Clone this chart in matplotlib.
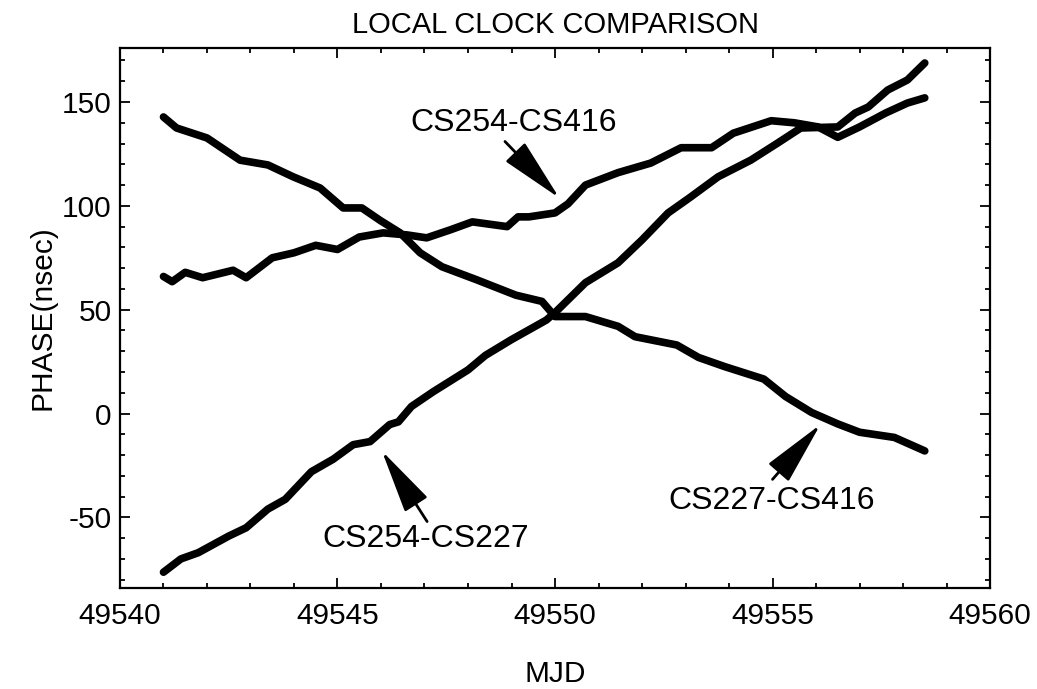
import matplotlib.pyplot as plt
from matplotlib.ticker import MultipleLocator

plt.rcParams['font.family'] = ['Liberation Sans', 'DejaVu Sans']
plt.rcParams['axes.unicode_minus'] = False

# CS227-CS416
mjd_a = [49541.0, 49541.3, 49542.0, 49542.76, 49543.4, 49543.98, 49544.6, 49545.13,
         49545.56, 49545.98, 49546.44, 49546.9, 49547.4, 49548.2, 49549.1, 49549.7,
         49550.0, 49550.7, 49551.45, 49551.84, 49552.8, 49553.3, 49553.9, 49554.8,
         49555.3, 49555.9, 49556.5, 49557.0, 49557.8, 49558.5]
phase_a = [142.8, 137.5, 132.7, 122, 119.7, 114, 108.6, 99,
           99, 93, 87, 77.4, 70.7, 64.4, 57, 54,
           46.7, 46.7, 42, 37, 33, 27, 22.6, 16.6,
           8.2, 0.5, -5, -9, -11.5, -18]

# CS254-CS416
mjd_b = [49541.0, 49541.2, 49541.5, 49541.9, 49542.6, 49542.9, 49543.5, 49544.0,
         49544.5, 49545.0, 49545.5, 49546.05, 49546.6, 49547.05, 49547.6, 49548.1,
         49548.9, 49549.15, 49549.4, 49550.0, 49550.3, 49550.7, 49551.45, 49552.2,
         49552.9, 49553.6, 49554.1, 49554.97, 49555.5, 49556.05, 49556.5, 49557.0,
         49557.6, 49558.1, 49558.5]
phase_b = [66, 63.5, 68, 65.4, 69, 65.4, 75, 77.4,
           81, 79, 85, 87, 86, 84.6, 88.5, 92.3,
           90, 94.7, 94.7, 96.6, 101, 110, 116, 120.6,
           128, 128, 135, 141, 140, 138, 133, 138,
           144.7, 149.5, 152]

# CS254-CS227
mjd_c = [49541.0, 49541.4, 49541.8, 49542.5, 49542.9, 49543.4, 49543.8, 49544.4,
         49544.9, 49545.36, 49545.75, 49546.2, 49546.4, 49546.7, 49547.2, 49548.0,
         49548.4, 49549.0, 49549.8, 49550.0, 49550.7, 49551.45, 49552.0, 49552.6,
         49553.1, 49553.75, 49554.5, 49555.1, 49555.65, 49556.5, 49556.9, 49557.2,
         49557.65, 49558.1, 49558.5]
phase_c = [-76.4, -70, -67, -59, -55, -46, -41.3, -28,
           -22, -15, -13.5, -5.3, -4, 3.4, 10.5, 21,
           28, 35.6, 45, 48.6, 63, 72.6, 83.6, 96.6,
           104, 114, 122, 130, 137.5, 138, 144.7, 147.6,
           155.8, 160.6, 168.8]

fig = plt.figure(figsize=(10.37, 6.89), dpi=100)
ax = fig.add_axes([0.1157, 0.1466, 0.839, 0.7837])

for x, y in [(mjd_a, phase_a), (mjd_b, phase_b), (mjd_c, phase_c)]:
    ax.plot(x, y, color='black', lw=5.5, solid_capstyle='round', solid_joinstyle='round')

ax.set_xlim(49540, 49560)
ax.set_ylim(-84, 176)
ax.xaxis.set_major_locator(MultipleLocator(5))
ax.xaxis.set_minor_locator(MultipleLocator(1))
ax.yaxis.set_major_locator(MultipleLocator(50))
ax.yaxis.set_minor_locator(MultipleLocator(10))
ax.tick_params(which='both', direction='in', top=True, right=True, width=1.3, labelsize=21.5)
ax.tick_params(which='major', length=7)
ax.tick_params(which='minor', length=3.5)
ax.tick_params(axis='x', pad=10)
ax.tick_params(axis='y', pad=6)
for s in ax.spines.values():
    s.set_linewidth(1.6)

ax.set_title('LOCAL CLOCK COMPARISON', fontsize=21, pad=11)
ax.set_xlabel('MJD', fontsize=21.5, labelpad=22)
ax.set_ylabel('PHASE(nsec)', fontsize=21.5, labelpad=4)

arrow = dict(arrowstyle='-|>,head_length=2.0,head_width=0.42', color='black',
             lw=2, mutation_scale=20, shrinkA=0, shrinkB=0)
ax.text(49549.06, 140, 'CS254-CS416', fontsize=23, ha='center', va='center')
ax.annotate('', xy=(49550.1, 103.8), xytext=(49548.85, 131), arrowprops=arrow)
ax.text(49547.03, -60.6, 'CS254-CS227', fontsize=23, ha='center', va='center')
ax.annotate('', xy=(49546.02, -18), xytext=(49547.06, -52), arrowprops=arrow)
ax.text(49554.97, -42.3, 'CS227-CS416', fontsize=23, ha='center', va='center')
ax.annotate('', xy=(49556.1, -5.3), xytext=(49555.0, -31.7), arrowprops=arrow)

fig.savefig('out.png', dpi=100)
